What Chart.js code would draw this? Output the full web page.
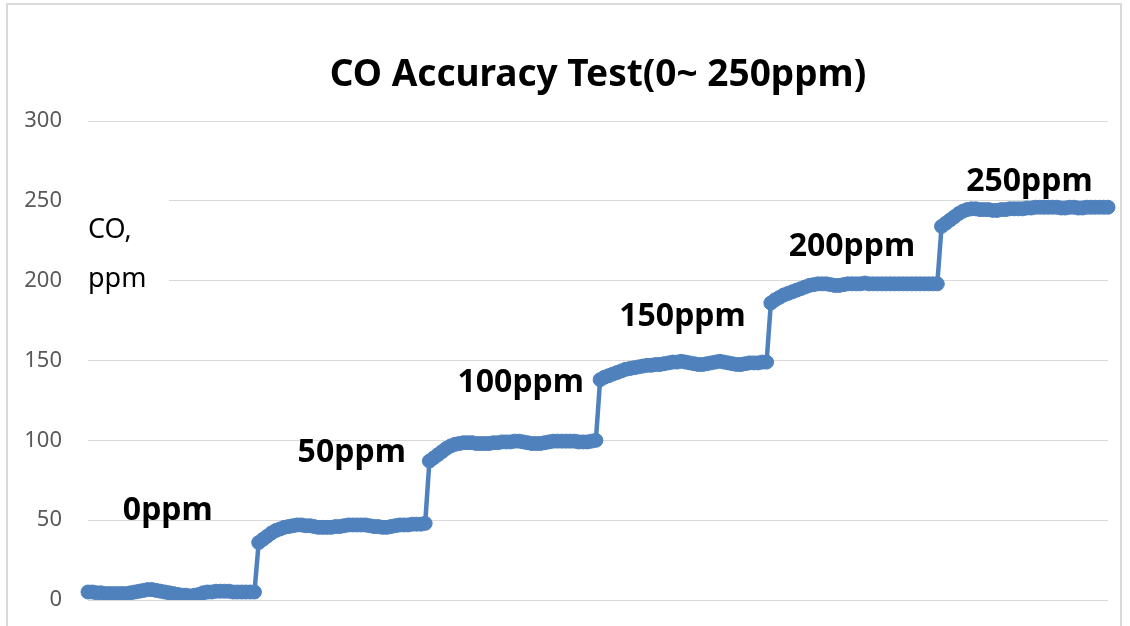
<!DOCTYPE html>
<html>
<head>
<meta charset="utf-8">
<title>CO Accuracy Test</title>
<script src="https://cdn.jsdelivr.net/npm/chart.js@4.4.1/dist/chart.umd.min.js"></script>
<style>
    html, body { margin: 0; padding: 0; background: #fff; overflow: hidden; }
    .frame { position: absolute; left: 6px; top: 3px; width: 1112px; height: 700px; border: 2px solid #d9d9d9; border-bottom: none; }
    .chart-box { position: absolute; left: 0; top: 0; width: 1130px; height: 626px; }
</style>
</head>
<body>
<div class="frame"></div>
<div class="chart-box"><canvas id="coChart"></canvas></div>
<script>
// CO readings (ppm) for each gas step
const step0 = [5, 5, 4.5, 4.5, 4, 4, 4, 4, 4, 4, 4.5, 5, 5.5, 6, 6.5, 6.5, 6, 5.5, 5, 4.5,
    4, 3.5, 3, 3, 2.5, 3, 3.5, 4.5, 5, 5, 5.5, 5.5, 5.5, 5.5, 5, 5, 5, 5, 5, 5];
const step50 = [36, 38, 40, 42, 43.5, 44.5, 45.5, 46, 46.5, 47, 47, 46.5, 46.5, 46, 45.5, 45.5, 45.5, 45.5, 46, 46,
    46.5, 47, 47, 47, 47, 47, 46.5, 46, 46, 45.5, 45.5, 46, 46.5, 47, 47, 47, 47.5, 47.5, 47.5, 48];
const step100 = [87, 89, 91, 93, 95, 96.5, 97.5, 98, 98.5, 98.5, 98.5, 98, 98, 98, 98, 98.5, 98.5, 99, 99, 99,
    99.5, 99.5, 99, 98.5, 98, 98, 98, 98.5, 99, 99.5, 99.5, 99.5, 99.5, 99.5, 99.5, 99, 99, 99, 99.5, 100];
const step150 = [138, 139.5, 140.5, 141.5, 142.5, 143.5, 144.5, 145, 145.5, 146, 146.5, 147, 147, 147.5, 147.5, 148, 148.5, 149, 149, 149.5,
    149, 148.5, 148, 147.5, 147.5, 148, 148.5, 149, 149.5, 149, 148.5, 148, 147.5, 147.5, 148, 148.5, 148.5, 148.5, 149, 149];
const step200 = [186, 188, 189.5, 191, 192, 193, 194, 195, 196, 197, 197.5, 198, 198, 198, 197.5, 197, 197, 197.5, 198, 198,
    198, 198, 198.5, 198, 198, 198, 198, 198, 198, 198, 198, 198, 198, 198, 198, 198, 198, 198, 198, 198];
const step250 = [234, 236, 238, 240, 242, 243.5, 244.5, 245, 245, 244.5, 244.5, 244.5, 244, 244, 244.5, 244.5, 245, 245, 245, 245,
    245.5, 245.5, 246, 246, 246, 246, 246, 246, 245.5, 245.5, 246, 246, 245.5, 245.5, 246, 246, 246, 246, 246, 246];

const stepNames = ['0ppm', '50ppm', '100ppm', '150ppm', '200ppm', '250ppm'];
const axisCaption = ['CO,', 'ppm'];
const chartTitle = 'CO Accuracy Test(0~ 250ppm)';

const coReadings = [].concat(step0, step50, step100, step150, step200, step250);
const sampleNo = coReadings.map((v, i) => i + 1);

const FONT = '"Noto Sans", "DejaVu Sans", sans-serif';
const BLUE = '#4F81BD';

// where the step names sit, in (sample index, ppm)
const stepLabelAt = [[18.7, 56], [61.8, 92], [101.4, 136], [139.3, 177], [179, 221], [220.6, 262]];

const plotText = {
    id: 'plotText',
    beforeDatasetsDraw(chart) {
        const { ctx, chartArea, scales: { x, y } } = chart;
        const left = chartArea.left;
        ctx.save();
        // white box behind the caption hides the grid lines
        const boxTop = y.getPixelForValue(257);
        ctx.fillStyle = '#fff';
        ctx.fillRect(left, boxTop, x.getPixelForValue(19) - left, y.getPixelForValue(188) - boxTop);
        ctx.fillStyle = '#000';
        ctx.font = '27px ' + FONT;
        ctx.textAlign = 'left';
        ctx.textBaseline = 'alphabetic';
        ctx.fillText(axisCaption[0], left, y.getPixelForValue(227));
        ctx.fillText(axisCaption[1], left, y.getPixelForValue(196));
        ctx.restore();
    },
    afterDatasetsDraw(chart) {
        const { ctx, scales: { x, y } } = chart;
        ctx.save();
        ctx.fillStyle = '#000';
        ctx.font = 'bold 32px ' + FONT;
        ctx.textAlign = 'center';
        ctx.textBaseline = 'middle';
        stepNames.forEach((name, i) => {
            const [idx, val] = stepLabelAt[i];
            ctx.fillText(name, x.getPixelForValue(idx), y.getPixelForValue(val));
        });
        ctx.restore();
    }
};

new Chart(document.getElementById('coChart'), {
    type: 'line',
    data: {
        labels: sampleNo,
        datasets: [{
            data: coReadings,
            borderColor: BLUE,
            borderWidth: 4.5,
            pointRadius: 7,
            pointBorderWidth: 1,
            pointBackgroundColor: BLUE,
            pointBorderColor: BLUE,
            tension: 0
        }]
    },
    options: {
        responsive: true,
        maintainAspectRatio: false,
        animation: false,
        layout: { padding: { left: 0, right: 22, top: 0, bottom: 26 } },
        plugins: {
            legend: { display: false },
            tooltip: { enabled: false },
            title: {
                display: true,
                text: chartTitle,
                fullSize: false,
                color: '#000',
                font: { family: FONT, size: 37, weight: 'bold' },
                padding: { top: 52.8, bottom: 23.8 }
            }
        },
        scales: {
            x: { display: false },
            y: {
                min: 0,
                max: 300,
                border: { display: false },
                grid: { color: '#d9d9d9', lineWidth: 1, drawTicks: false },
                ticks: { stepSize: 50, padding: 26, color: '#595959', font: { family: FONT, size: 22 } },
                afterFit(scale) {
                    // fixed axis width; the tick padding should not push the plot up from the bottom
                    scale.width = 88;
                    scale.paddingTop = 0;
                    scale.paddingBottom = 0;
                }
            }
        }
    },
    plugins: [plotText]
});
</script>
</body>
</html>
